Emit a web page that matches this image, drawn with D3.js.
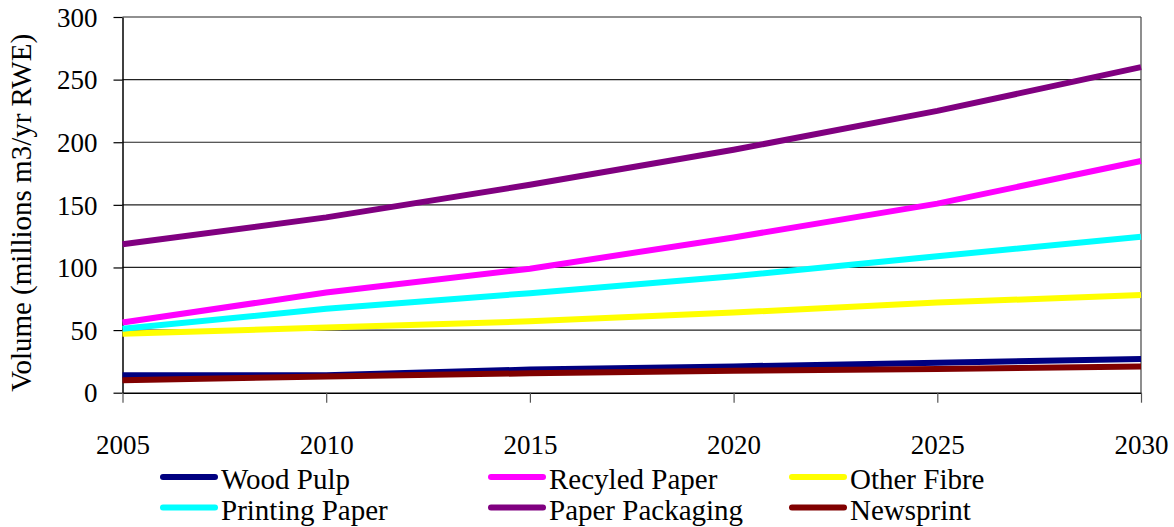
<!DOCTYPE html>
<html><head><meta charset="utf-8">
<script src="https://cdn.jsdelivr.net/npm/d3@7"></script>
</head>
<body style="margin:0;background:#fff"><svg id="c" width="1174" height="527"></svg>
<script>
const years = [2005, 2010, 2015, 2020, 2025, 2030];
const seriesNames = ["Wood Pulp", "Recyled Paper", "Other Fibre", "Printing Paper", "Paper Packaging", "Newsprint"];
const woodPulp      = [14, 14, 18.5, 21, 24, 27];
const recycledPaper = [56, 80, 99, 124, 151, 185];
const otherFibre    = [47, 52, 57, 64, 72, 78];
const printingPaper = [51, 67, 79.5, 93, 109, 124.5];
const paperPackaging= [118.5, 140, 166, 194, 225, 260];
const newsprint     = [10, 13, 15.5, 17.5, 19, 21];
const yTicks = [0, 50, 100, 150, 200, 250, 300];
const colors = ["#000080", "#FF00FF", "#FFFF00", "#00FFFF", "#800080", "#800000"];
const values = [woodPulp, recycledPaper, otherFibre, printingPaper, paperPackaging, newsprint];

const svg = d3.select("#c");
const m = {left: 122.5, right: 1141, top: 17, bottom: 392.7};
const x = d3.scaleLinear().domain([2005, 2030]).range([m.left, m.right]);
const y = d3.scaleLinear().domain([0, 300]).range([m.bottom, m.top]);

svg.append("g").selectAll("line").data(yTicks.filter(d => d > 0)).join("line")
  .attr("x1", m.left).attr("x2", m.right)
  .attr("y1", d => y(d)).attr("y2", d => y(d))
  .attr("stroke", "#222").attr("stroke-width", 1.2);
svg.append("line").attr("x1", m.right).attr("x2", m.right).attr("y1", m.top).attr("y2", m.bottom)
  .attr("stroke", "#444").attr("stroke-width", 1.2);

const yAxis = svg.append("g").attr("transform", `translate(${m.left},0)`)
  .call(d3.axisLeft(y).tickValues(yTicks).tickSize(9).tickPadding(16).tickSizeOuter(0));
yAxis.select(".domain").attr("stroke", "#000").attr("stroke-width", 1.5);
yAxis.selectAll(".tick line").attr("stroke", "#000").attr("stroke-width", 1.2);
yAxis.selectAll("text").attr("font-size", 27).attr("fill", "#000").attr("dy", "0.34em");

const xAxis = svg.append("g").attr("transform", `translate(0,${m.bottom})`)
  .call(d3.axisBottom(x).tickValues(years).tickFormat(d3.format("d")).tickSize(10).tickPadding(32).tickSizeOuter(0));
xAxis.select(".domain").attr("stroke", "#000").attr("stroke-width", 1.5);
xAxis.selectAll(".tick line").attr("stroke", "#555").attr("stroke-width", 1.2);
xAxis.selectAll("text").attr("font-size", 27).attr("fill", "#000");

svg.append("text").attr("transform", `translate(31,${(m.top + m.bottom) / 2 + 8}) rotate(-90)`)
  .attr("text-anchor", "middle").attr("font-size", 29).attr("fill", "#000")
  .text("Volume (millions m3/yr RWE)");

const line = d3.line().x((d, i) => x(years[i])).y(d => y(d));
svg.append("g").selectAll("path").data(values).join("path")
  .attr("d", d => line(d)).attr("fill", "none")
  .attr("stroke", (d, i) => colors[i]).attr("stroke-width", 6);

const legX = [163, 491, 792];
const legY = [477, 507.5];
const leg = svg.append("g").selectAll("g").data(seriesNames).join("g")
  .attr("transform", (d, i) => `translate(${legX[i % 3]},${legY[Math.floor(i / 3)]})`);
leg.append("line").attr("x1", 0).attr("x2", 52).attr("y1", 0).attr("y2", 0)
  .attr("stroke", (d, i) => colors[i]).attr("stroke-width", 6).attr("stroke-linecap", "round");
leg.append("text").attr("x", 58).attr("y", 12).attr("font-size", 29)
  .attr("fill", "#000").text(d => d);

// force serif face on every text
function applySerif() {
  svg.selectAll("g").attr("font-family", "Liberation Serif");
  svg.selectAll("text").each(function() {
    this.setAttribute("font-family", "Liberation Serif");
    this.style.setProperty("font-family", "'Liberation Serif', serif", "important");
  });
}
applySerif();
requestAnimationFrame(applySerif);
setTimeout(applySerif, 50);
</script></body></html>
